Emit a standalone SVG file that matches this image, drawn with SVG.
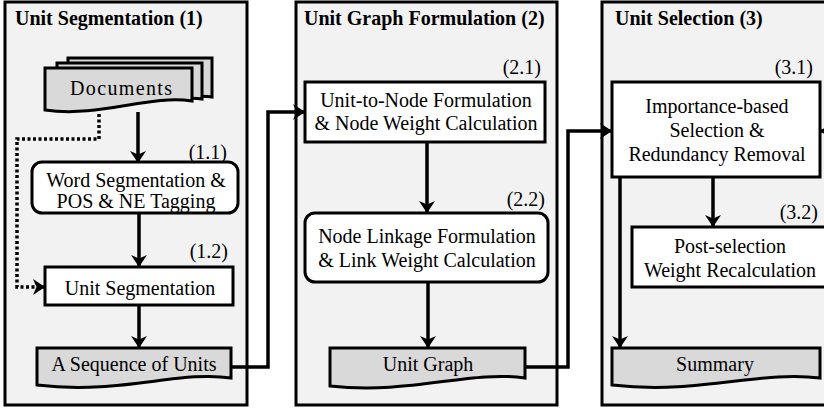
<svg xmlns="http://www.w3.org/2000/svg" width="824" height="410" viewBox="0 0 824 410">
  <style>
    .panel { fill: #f2f2f2; stroke: #000; stroke-width: 3; }
    .box { fill: #fff; stroke: #000; stroke-width: 3; }
    .doc { fill: #d9d9d9; stroke: #000; stroke-width: 3; stroke-linejoin: miter; }
    .title { font-family: "Liberation Serif", "Times New Roman", serif; font-weight: bold; font-size: 20px; fill: #000; }
    .lbl { font-family: "Liberation Serif", "Times New Roman", serif; font-size: 20px; fill: #000; text-anchor: middle; }
    .num { font-family: "Liberation Serif", "Times New Roman", serif; font-size: 20px; fill: #000; text-anchor: end; }
    .edge { fill: none; stroke: #000; stroke-width: 3.5; marker-end: url(#arrow); }
    .dotted { fill: none; stroke: #000; stroke-width: 3.5; stroke-dasharray: 3 2.5; marker-end: url(#arrow); }
  </style>
  <defs>
    <marker id="arrow" viewBox="0 0 12 16" refX="11" refY="8" markerWidth="12" markerHeight="16" orient="auto" markerUnits="userSpaceOnUse">
      <path d="M0,0 L12,8 L0,16 L3.5,8 Z" fill="#000"/>
    </marker>
  </defs>

  <!-- stage panels -->
  <g id="panel-1">
    <rect class="panel" x="5" y="2" width="242" height="403"/>
    <text class="title" x="15" y="25">Unit Segmentation (1)</text>
  </g>
  <g id="panel-2">
    <rect class="panel" x="296" y="2" width="261" height="403"/>
    <text class="title" x="304" y="25">Unit Graph Formulation (2)</text>
  </g>
  <g id="panel-3">
    <rect class="panel" x="602" y="2" width="250" height="403"/>
    <text class="title" x="615" y="25">Unit Selection (3)</text>
  </g>

  <!-- connectors -->
  <g id="connectors">
    <path class="dotted" d="M99,114 V139 H17 V287 H44"/>
    <path class="edge" d="M138,112 V162"/>
    <path class="edge" d="M139,213 V266"/>
    <path class="edge" d="M139,305 V347"/>
    <path class="edge" d="M231,367 H268 V112 H304"/>
    <path class="edge" d="M427,142 V212"/>
    <path class="edge" d="M428,282 V347"/>
    <path class="edge" d="M525,367 H568 V131 H611"/>
    <path class="edge" d="M713,177 V226"/>
    <path class="edge" d="M620,177 V347"/>
    <path class="edge" d="M870,257 V131 H821"/>
  </g>

  <!-- stage 1 nodes -->
  <g id="documents">
    <path class="doc" d="M68,58 H212 V97 C190,93 150,104 68,100 Z"/>
    <path class="doc" d="M57,63 H202 V99 C180,95 140,106 57,104 Z"/>
    <path class="doc" d="M45,68 H192 V101 C150,94 100,118 45,110 Z"/>
    <text class="lbl" x="121" y="95" font-size="21" textLength="102">Documents</text>
  </g>
  <g id="node-1-1">
    <rect class="box" x="32" y="162" width="206" height="51" rx="10"/>
    <text class="num" x="227" y="159">(1.1)</text>
    <text class="lbl" x="136" y="187">Word Segmentation &amp;</text>
    <text class="lbl" x="136" y="208">POS &amp; NE Tagging</text>
  </g>
  <g id="node-1-2">
    <rect class="box" x="45" y="267" width="188" height="38"/>
    <text class="num" x="228" y="258">(1.2)</text>
    <text class="lbl" x="140" y="295">Unit Segmentation</text>
  </g>
  <g id="sequence">
    <path class="doc" d="M37,348 H231 V378 C180,370 120,395 37,385 Z"/>
    <text class="lbl" x="134" y="371">A Sequence of Units</text>
  </g>

  <!-- stage 2 nodes -->
  <g id="node-2-1">
    <rect class="box" x="305" y="82" width="240" height="60"/>
    <text class="num" x="541" y="74">(2.1)</text>
    <text class="lbl" x="426" y="107">Unit-to-Node Formulation</text>
    <text class="lbl" x="426" y="130">&amp; Node Weight Calculation</text>
  </g>
  <g id="node-2-2">
    <rect class="box" x="305" y="213" width="243" height="69" rx="10"/>
    <text class="num" x="545" y="206">(2.2)</text>
    <text class="lbl" x="427" y="243">Node Linkage Formulation</text>
    <text class="lbl" x="427" y="267">&amp; Link Weight Calculation</text>
  </g>
  <g id="unit-graph">
    <path class="doc" d="M330,348 H525 V378 C470,370 410,395 330,386 Z"/>
    <text class="lbl" x="428" y="371">Unit Graph</text>
  </g>

  <!-- stage 3 nodes -->
  <g id="node-3-1">
    <rect class="box" x="612" y="82" width="208" height="95"/>
    <text class="num" x="813" y="74">(3.1)</text>
    <text class="lbl" x="717" y="113">Importance-based</text>
    <text class="lbl" x="717" y="137">Selection &amp;</text>
    <text class="lbl" x="717" y="161">Redundancy Removal</text>
  </g>
  <g id="node-3-2">
    <rect class="box" x="632" y="227" width="210" height="60"/>
    <text class="num" x="818" y="219">(3.2)</text>
    <text class="lbl" x="730" y="253">Post-selection</text>
    <text class="lbl" x="730" y="277">Weight Recalculation</text>
  </g>
  <g id="summary">
    <path class="doc" d="M612,348 H820 V378 C760,370 700,395 612,385 Z"/>
    <text class="lbl" x="715" y="371">Summary</text>
  </g>
</svg>
